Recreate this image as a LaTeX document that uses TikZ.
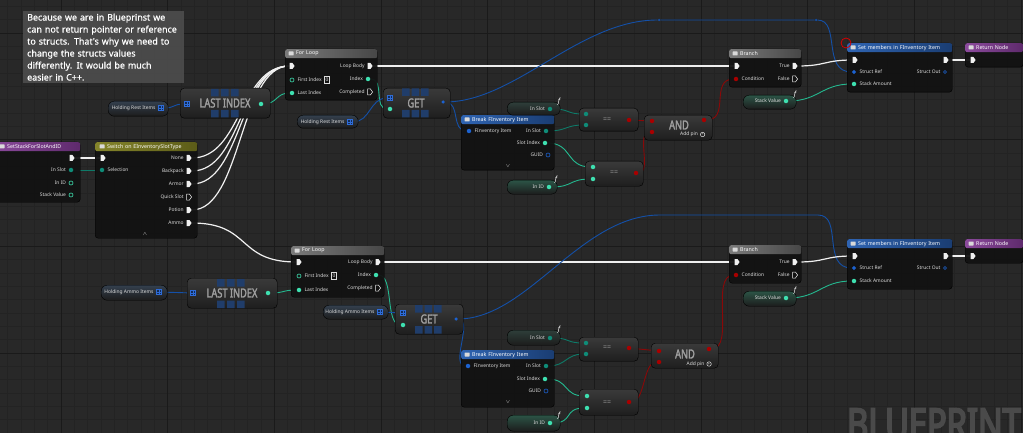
\documentclass[tikz,border=0pt]{standalone}
\usepackage{fontspec}
\setmainfont{Noto Sans}
\newfontfamily\bpcond[FakeStretch=0.74, FakeBold=2]{Noto Sans}
\newfontfamily\bpwm[FakeStretch=0.74, FakeBold=4]{Noto Sans}
\newfontfamily\bpnote[FakeBold=0.7]{Noto Sans}
\usepackage{xcolor}
\usepackage{tikz}
\usetikzlibrary{positioning,shapes,shapes.geometric,shapes.symbols,arrows.meta}
\pgfdeclarelayer{bg}
\pgfdeclarelayer{wires}
\pgfsetlayers{bg,wires,main}
\definecolor{bgcol}{HTML}{282828}
\definecolor{gridminor}{HTML}{232323}
\definecolor{gridmajor}{HTML}{1A1A1A}
\definecolor{nodebody}{HTML}{121212}
\definecolor{execwhite}{HTML}{F0F0F0}
\definecolor{intteal}{HTML}{3EE0B0}
\definecolor{intwirec}{HTML}{24B88F}
\definecolor{byteteal}{HTML}{0F8C78}
\definecolor{bytewirec}{HTML}{0E7A68}
\definecolor{structblue}{HTML}{1C62D0}
\definecolor{structwirec}{HTML}{1450A8}
\definecolor{boolred}{HTML}{A80000}
\definecolor{boolwirec}{HTML}{8A0808}
\definecolor{arrblue}{HTML}{2E6CD8}
\definecolor{pinlabel}{HTML}{DCDCDC}
\definecolor{commentgray}{HTML}{4C4C4C}
\definecolor{tileblue}{HTML}{203D6A}
\definecolor{purebig}{HTML}{A0A0A0}
\definecolor{watermark}{HTML}{4A4A4A}
\definecolor{funcL}{HTML}{8B4A9C}
\definecolor{funcR}{HTML}{5E2A6C}
\definecolor{switchL}{HTML}{84842A}
\definecolor{switchR}{HTML}{5C5C18}
\definecolor{loopL}{HTML}{7A7A7A}
\definecolor{loopR}{HTML}{474747}
\definecolor{structL}{HTML}{2F64B2}
\definecolor{structR}{HTML}{1A3D72}
\definecolor{pureTop}{HTML}{3A3A3A}
\definecolor{pureBot}{HTML}{1E1E1E}
\definecolor{arrTop}{HTML}{34404E}
\definecolor{byteTop}{HTML}{2E3E3A}
\definecolor{intTop}{HTML}{2C5446}
\definecolor{varBot}{HTML}{1C1C1C}
\newcommand{\bppin}{\fontsize{4.9}{5.5}\selectfont}
\newcommand{\bptitle}{\fontsize{5.3}{6}\selectfont}
\newcommand{\bpbig}{\bpcond\fontsize{12.5}{13}\selectfont}
\tikzset{
    bpbody/.style={rectangle, rounded corners=3pt, draw=black, fill=nodebody, fill opacity=0.95, anchor=north west, inner sep=0pt},
    bphead/.style={rectangle, rounded corners=2pt, anchor=north west, inner xsep=3pt, inner ysep=0pt, minimum height=9pt, font=\bptitle, text=white, align=left},
    hicon/.style={rectangle, fill=white!85!black, rounded corners=0.5pt, minimum width=5pt, minimum height=4pt, inner sep=0pt},
    bppure/.style={rectangle, rounded corners=4pt, draw=black, top color=pureTop, bottom color=pureBot, anchor=north west, inner sep=0pt},
    bpvar/.style={rectangle, rounded corners=6pt, draw=black, bottom color=varBot, anchor=north west, inner sep=0pt},
    bigtxt/.style={font=\bpbig, text=purebig, inner sep=0pt},
    eqtxt/.style={font=\bfseries\fontsize{7}{7}\selectfont, text=purebig, inner sep=0pt},
    pinlbl/.style={font=\bppin, text=pinlabel, inner sep=0pt},
    execpin/.style={signal, signal to=east, signal pointer angle=110, fill=execwhite, minimum width=5pt, minimum height=6pt, inner sep=0pt},
    execopen/.style={signal, signal to=east, signal pointer angle=110, draw=execwhite, line width=0.5pt, minimum width=5pt, minimum height=6pt, inner sep=0pt},
    intpin/.style={circle, fill=intteal, minimum size=4.5pt, inner sep=0pt},
    intopen/.style={circle, draw=intteal, line width=0.6pt, minimum size=4pt, inner sep=0pt},
    bytepin/.style={circle, fill=byteteal, minimum size=4.5pt, inner sep=0pt},
    structpin/.style={circle, fill=structblue, minimum size=4.5pt, inner sep=0pt},
    structref/.style={diamond, fill=structblue, minimum size=4.5pt, inner sep=0pt},
    structopen/.style={circle, draw=structblue, line width=0.6pt, minimum size=4pt, inner sep=0pt},
    boolpin/.style={circle, fill=boolred, minimum size=4.5pt, inner sep=0pt},
    arraypin/.style={rectangle, draw=arrblue, fill=arrblue!40!black, line width=0.5pt, minimum size=5pt, inner sep=0pt,
        path picture={\draw[arrblue, line width=0.4pt] (path picture bounding box.north) -- (path picture bounding box.south) (path picture bounding box.west) -- (path picture bounding box.east);}},
    valbox/.style={rectangle, draw=pinlabel, line width=0.4pt, font=\bppin, text=pinlabel, inner sep=0.8pt, minimum width=5pt, minimum height=7pt},
    addpin/.style={circle, draw=pinlabel, line width=0.5pt, minimum size=4.5pt, inner sep=0pt, font=\fontsize{4}{4}\selectfont, text=pinlabel},
    ficon/.style={font=\itshape\bfseries\fontsize{7}{7}\selectfont, text=white, inner sep=0pt},
    knot/.style={circle, fill=structwirec, minimum size=2.5pt, inner sep=0pt},
    comment/.style={rectangle, fill=commentgray, fill opacity=0.92, text opacity=1, text=white, anchor=north west, align=left, inner xsep=4pt, inner ysep=2pt, font=\bpnote\fontsize{8.9}{12}\selectfont},
    execwire/.style={draw=execwhite, line width=1.2pt},
    intwire/.style={draw=intwirec, line width=0.9pt},
    bytewire/.style={draw=bytewirec, line width=0.9pt},
    structwire/.style={draw=structwirec, line width=0.9pt},
    arrwire/.style={draw=structwirec, line width=0.9pt},
    boolwire/.style={draw=boolwirec, line width=0.9pt}
}

\begin{document}
\begin{tikzpicture}[x=1pt, y=-1pt]

\useasboundingbox (0,0) rectangle (1023,433);
\clip (0,0) rectangle (1023,433);

% ── Canvas ──
\begin{pgfonlayer}{bg}
\fill[bgcol] (0,0) rectangle (1023,433);
\draw[gridminor, line width=0.4pt, step=13.333pt, shift={(61pt,-33pt)}] (-61pt,33pt) grid (962pt,-400pt);
\draw[gridmajor, line width=0.6pt, step=106.667pt, shift={(61pt,-33pt)}] (-61pt,33pt) grid (962pt,-400pt);
\end{pgfonlayer}

% ── Comment ──
\node[comment, minimum width=161pt, minimum height=72pt, text width=153pt] (note) at (23,11) {Because we are in Blueprinst we\\can not return pointer or reference\\to structs. That's why we need to\\change the structs values\\differently. It would be much\\easier in C++.};

% ── Entry ──
\node[bpbody, minimum width=90pt, minimum height=60pt] (ss) at (-10,142) {};
\node[bphead, left color=funcL, right color=funcR, minimum width=90pt, text width=84pt] (ss-h) at (-10,142) {\hspace*{14pt}SetStackForSlotAndID};
\node[hicon] at (2,146.5) {};
\node[execpin] (ss-out) at (71,158) {};
\node[bytepin] (ss-slot) at (71,170) {};
\node[pinlbl, left=2.5pt of ss-slot] {In Slot};
\node[intopen] (ss-id) at (71,183) {};
\node[pinlbl, left=2.5pt of ss-id] {In ID};
\node[intopen] (ss-val) at (71,195) {};
\node[pinlbl, left=2.5pt of ss-val] {Stack Value};

% ── Switch ──
\node[bpbody, minimum width=102pt, minimum height=96pt] (sw) at (95,142) {};
\node[bphead, left color=switchL, right color=switchR, minimum width=102pt, text width=96pt] (sw-h) at (95,142) {\hspace*{9pt}Switch on EInventorySlotType};
\node[hicon] at (102,146.5) {};
\node[execpin] (sw-in) at (102,158) {};
\node[bytepin] (sw-sel) at (102,170) {};
\node[pinlbl, right=3pt of sw-sel] {Selection};
\node[execpin] (sw-none) at (188,158) {};
\node[pinlbl, left=2.5pt of sw-none] {None};
\node[execpin] (sw-pack) at (188,171) {};
\node[pinlbl, left=2.5pt of sw-pack] {Backpack};
\node[execpin] (sw-armor) at (188,184) {};
\node[pinlbl, left=2.5pt of sw-armor] {Armor};
\node[execopen] (sw-quick) at (188,197) {};
\node[pinlbl, left=2.5pt of sw-quick] {Quick Slot};
\node[execpin] (sw-potion) at (188,210) {};
\node[pinlbl, left=2.5pt of sw-potion] {Potion};
\node[execpin] (sw-ammo) at (188,223) {};
\node[pinlbl, left=2.5pt of sw-ammo] {Ammo};
\node[pinlbl] (sw-more) at (145,234) {$\wedge$};

% ── Rest items: last index ──
\node[bpvar, top color=arrTop, minimum width=60pt, minimum height=15pt] (hri1) at (108,101) {};
\node[arraypin] (hri1-out) at (161,108) {};
\node[pinlbl, left=2.5pt of hri1-out] {Holding Rest Items};
\node[bppure, minimum width=90pt, minimum height=30pt] (li1) at (180,88) {};
\fill[tileblue] (211,89) rectangle +(7.5,7.5) (221,89) rectangle +(7.5,7.5) (231,89) rectangle +(7.5,7.5)
    (211,110) rectangle +(7.5,7.5) (221,110) rectangle +(7.5,7.5) (231,110) rectangle +(7.5,7.5);
\node[bigtxt] (li1-t) at (225,103) {LAST INDEX};
\node[arraypin] (li1-arr) at (187,104) {};
\node[intpin] (li1-out) at (261,104) {};

% ── Rest items: for loop ──
\node[bpbody, minimum width=92pt, minimum height=51pt] (fl1) at (285,49) {};
\node[bphead, left color=loopL, right color=loopR, minimum width=92pt, text width=86pt] (fl1-h) at (285,49) {\hspace*{8pt}For Loop};
\node[hicon] at (291,53.5) {};
\node[execpin] (fl1-in) at (291,66) {};
\node[intopen] (fl1-first) at (292,80) {};
\node[pinlbl, right=3pt of fl1-first] (fl1-firstl) {First Index};
\node[valbox, right=2.5pt of fl1-firstl] {0};
\node[intpin] (fl1-last) at (292,93) {};
\node[pinlbl, right=3pt of fl1-last] {Last Index};
\node[execpin] (fl1-body) at (369,66) {};
\node[pinlbl, left=2.5pt of fl1-body] {Loop Body};
\node[intpin] (fl1-idx) at (368,79) {};
\node[pinlbl, left=2.5pt of fl1-idx] {Index};
\node[execopen] (fl1-done) at (369,92) {};
\node[pinlbl, left=2.5pt of fl1-done] {Completed};

% ── Rest items: get ──
\node[bpvar, top color=arrTop, minimum width=61pt, minimum height=13pt] (hri2) at (297,115) {};
\node[arraypin] (hri2-out) at (350,122) {};
\node[pinlbl, left=2.5pt of hri2-out] {Holding Rest Items};
\node[bppure, minimum width=67pt, minimum height=30pt] (get1) at (383,88) {};
\fill[tileblue] (402,88.5) rectangle +(7.5,7.5) (411.5,88.5) rectangle +(7.5,7.5) (421,88.5) rectangle +(7.5,7.5)
    (402,110) rectangle +(7.5,7.5) (411.5,110) rectangle +(7.5,7.5) (421,110) rectangle +(7.5,7.5);
\node[bigtxt] (get1-t) at (416,103) {GET};
\node[arraypin] (get1-arr) at (390,98) {};
\node[intpin] (get1-int) at (390,109) {};
\node[structpin, minimum size=3.5pt] (get1-out) at (443,102) {};

% ── Rest items: break ──
\node[bpbody, minimum width=93pt, minimum height=55pt] (brk1) at (461,115) {};
\node[bphead, left color=structL, right color=structR, minimum width=93pt, text width=87pt] (brk1-h) at (461,115) {\hspace*{8pt}Break FInventory Item};
\node[hicon] at (467,119.5) {};
\node[structpin] (brk1-in) at (469,131) {};
\node[pinlbl, right=3pt of brk1-in] {FInventory Item};
\node[bytepin] (brk1-slot) at (546,131) {};
\node[pinlbl, left=2.5pt of brk1-slot] {In Slot};
\node[intpin] (brk1-idx) at (545,143) {};
\node[pinlbl, left=2.5pt of brk1-idx] {Slot Index};
\node[structopen] (brk1-guid) at (548,155) {};
\node[pinlbl, left=2.5pt of brk1-guid] {GUID};
\node[pinlbl] (brk1-more) at (508,166) {$\vee$};

% ── Rest items: compare ──
\node[bpvar, top color=byteTop, minimum width=53pt, minimum height=13pt] (slot1) at (507,102) {};
\node[bytepin] (slot1-out) at (550,109) {};
\node[pinlbl, left=2.5pt of slot1-out] {In Slot};
\node[ficon] at (559,102) {f};
\node[bpvar, top color=intTop, minimum width=50pt, minimum height=14pt] (id1) at (507,180) {};
\node[intpin] (id1-out) at (549,187) {};
\node[pinlbl, left=2.5pt of id1-out] {In ID};
\node[ficon] at (556,180) {f};
\node[bppure, minimum width=59pt, minimum height=23pt] (eqa1) at (579,108) {};
\node[eqtxt] at (607,120) {==};
\node[bytepin] (eqa1-a) at (586,114) {};
\node[bytepin] (eqa1-b) at (586,125) {};
\node[boolpin] (eqa1-out) at (629,120) {};
\node[bppure, minimum width=58pt, minimum height=25pt] (eqb1) at (585,161) {};
\node[eqtxt] at (614,173) {==};
\node[intpin] (eqb1-a) at (593,167) {};
\node[intpin] (eqb1-b) at (593,179) {};
\node[boolpin] (eqb1-out) at (636,173) {};
\node[bppure, minimum width=68pt, minimum height=25pt] (and1) at (644,115) {};
\node[bigtxt] at (679,125) {AND};
\node[boolpin] (and1-a) at (652,121) {};
\node[boolpin] (and1-b) at (652,132) {};
\node[boolpin] (and1-out) at (704,120) {};
\node[pinlbl] (and1-addl) at (689,134.5) {Add pin};
\node[addpin, right=2pt of and1-addl] {+};

% ── Rest items: branch and set ──
\node[bpbody, minimum width=72pt, minimum height=38pt] (br1) at (729,49) {};
\node[bphead, left color=loopL, right color=loopR, minimum width=72pt, text width=66pt] (br1-h) at (729,49) {\hspace*{8pt}Branch};
\node[hicon] at (735,53.5) {};
\node[execpin] (br1-in) at (736,66) {};
\node[boolpin] (br1-cond) at (736,79) {};
\node[pinlbl, right=3pt of br1-cond] {Condition};
\node[execpin] (br1-true) at (794,66) {};
\node[pinlbl, left=2.5pt of br1-true] {True};
\node[execopen] (br1-false) at (794,79) {};
\node[pinlbl, left=2.5pt of br1-false] {False};
\node[bpvar, top color=intTop, minimum width=53pt, minimum height=14pt] (sv1) at (743,95) {};
\node[intpin] (sv1-out) at (786,101) {};
\node[pinlbl, left=2.5pt of sv1-out] {Stack Value};
\node[ficon] at (795,95) {f};
\node[bpbody, minimum width=105pt, minimum height=49pt] (set1) at (847,43) {};
\node[bphead, left color=structL, right color=structR, minimum width=105pt, text width=99pt] (set1-h) at (847,43) {\hspace*{8pt}Set members in FInventory Item};
\node[hicon] at (853,47.5) {};
\node[execpin] (set1-in) at (854,60) {};
\node[structref] (set1-ref) at (854,72) {};
\node[pinlbl, right=3pt of set1-ref] {Struct Ref};
\node[intpin] (set1-amt) at (854,84) {};
\node[pinlbl, right=3pt of set1-amt] {Stack Amount};
\node[execpin] (set1-out) at (945,60) {};
\node[structopen, minimum size=3pt] (set1-sout) at (945,72) {};
\node[pinlbl, left=2.5pt of set1-sout] {Struct Out};
\node[bpbody, minimum width=58pt, minimum height=24pt] (ret1) at (965,43) {};
\node[bphead, left color=funcL, right color=funcR, minimum width=58pt, text width=52pt] (ret1-h) at (965,43) {\hspace*{8pt}Return Node};
\node[hicon] at (971,47.5) {};
\node[execpin] (ret1-in) at (972,60) {};
\node[circle, draw=red!85!black, line width=0.8pt, minimum size=10pt, inner sep=0pt] (mark) at (846,43) {};

% ── Ammo items: last index ──
\node[bpvar, top color=arrTop, minimum width=66pt, minimum height=15pt] (hai1) at (101,285) {};
\node[arraypin] (hai1-out) at (159,292) {};
\node[pinlbl, left=2.5pt of hai1-out] {Holding Ammo Items};
\node[bppure, minimum width=90pt, minimum height=30pt] (li2) at (187,278) {};
\fill[tileblue] (217,279) rectangle +(7.5,7.5) (227,279) rectangle +(7.5,7.5) (237,279) rectangle +(7.5,7.5)
    (217,300.5) rectangle +(7.5,7.5) (227,300.5) rectangle +(7.5,7.5) (237,300.5) rectangle +(7.5,7.5);
\node[bigtxt] (li2-t) at (232,293) {LAST INDEX};
\node[arraypin] (li2-arr) at (193,293) {};
\node[intpin] (li2-out) at (268,293) {};

% ── Ammo items: for loop ──
\node[bpbody, minimum width=93pt, minimum height=51pt] (fl2) at (291,246) {};
\node[bphead, left color=loopL, right color=loopR, minimum width=93pt, text width=87pt] (fl2-h) at (291,246) {\hspace*{8pt}For Loop};
\node[hicon] at (297,250.5) {};
\node[execpin] (fl2-in) at (298,262) {};
\node[intopen] (fl2-first) at (299,276) {};
\node[pinlbl, right=3pt of fl2-first] (fl2-firstl) {First Index};
\node[valbox, right=2.5pt of fl2-firstl] {0};
\node[intpin] (fl2-last) at (299,290) {};
\node[pinlbl, right=3pt of fl2-last] {Last Index};
\node[execpin] (fl2-body) at (377,262) {};
\node[pinlbl, left=2.5pt of fl2-body] {Loop Body};
\node[intpin] (fl2-idx) at (376,275) {};
\node[pinlbl, left=2.5pt of fl2-idx] {Index};
\node[execopen] (fl2-done) at (377,288) {};
\node[pinlbl, left=2.5pt of fl2-done] {Completed};

% ── Ammo items: get ──
\node[bpvar, top color=arrTop, minimum width=65pt, minimum height=14pt] (hai2) at (323,305) {};
\node[arraypin] (hai2-out) at (380,312) {};
\node[pinlbl, left=2.5pt of hai2-out] {Holding Ammo Items};
\node[bppure, minimum width=68pt, minimum height=30pt] (get2) at (395,304) {};
\fill[tileblue] (415,305) rectangle +(7.5,7.5) (424.5,305) rectangle +(7.5,7.5) (434,305) rectangle +(7.5,7.5)
    (415,326) rectangle +(7.5,7.5) (424.5,326) rectangle +(7.5,7.5) (434,326) rectangle +(7.5,7.5);
\node[bigtxt] (get2-t) at (429,319) {GET};
\node[arraypin] (get2-arr) at (403,313) {};
\node[intpin] (get2-int) at (403,325) {};
\node[structpin, minimum size=3.5pt] (get2-out) at (456,319) {};

% ── Ammo items: break ──
\node[bpbody, minimum width=93pt, minimum height=57pt] (brk2) at (461,350) {};
\node[bphead, left color=structL, right color=structR, minimum width=93pt, text width=87pt] (brk2-h) at (461,350) {\hspace*{8pt}Break FInventory Item};
\node[hicon] at (467,354.5) {};
\node[structpin] (brk2-in) at (468,366) {};
\node[pinlbl, right=3pt of brk2-in] {FInventory Item};
\node[bytepin] (brk2-slot) at (546,366) {};
\node[pinlbl, left=2.5pt of brk2-slot] {In Slot};
\node[intpin] (brk2-idx) at (545,379) {};
\node[pinlbl, left=2.5pt of brk2-idx] {Slot Index};
\node[structopen] (brk2-guid) at (546,391) {};
\node[pinlbl, left=2.5pt of brk2-guid] {GUID};
\node[pinlbl] (brk2-more) at (508,402) {$\vee$};

% ── Ammo items: compare ──
\node[bpvar, top color=byteTop, minimum width=53pt, minimum height=15pt] (slot2) at (507,330) {};
\node[bytepin] (slot2-out) at (550,338) {};
\node[pinlbl, left=2.5pt of slot2-out] {In Slot};
\node[ficon] at (559,330) {f};
\node[bpvar, top color=intTop, minimum width=53pt, minimum height=16pt] (id2) at (507,415) {};
\node[intpin] (id2-out) at (550,423) {};
\node[pinlbl, left=2.5pt of id2-out] {In ID};
\node[ficon] at (559,416) {f};
\node[bppure, minimum width=59pt, minimum height=24pt] (eqa2) at (579,337) {};
\node[eqtxt] at (607,348) {==};
\node[bytepin] (eqa2-a) at (586,343) {};
\node[bytepin] (eqa2-b) at (586,354) {};
\node[boolpin] (eqa2-out) at (629,348) {};
\node[bppure, minimum width=59pt, minimum height=26pt] (eqb2) at (579,389) {};
\node[eqtxt] at (607,403) {==};
\node[intpin] (eqb2-a) at (587,396) {};
\node[intpin] (eqb2-b) at (587,408) {};
\node[boolpin] (eqb2-out) at (629,402) {};
\node[bppure, minimum width=67pt, minimum height=25pt] (and2) at (651,343) {};
\node[bigtxt] at (685,354) {AND};
\node[boolpin] (and2-a) at (659,351) {};
\node[boolpin] (and2-b) at (659,362) {};
\node[boolpin] (and2-out) at (709,349) {};
\node[pinlbl] (and2-addl) at (695.5,364) {Add pin};
\node[addpin, right=2pt of and2-addl] {+};

% ── Ammo items: branch and set ──
\node[bpbody, minimum width=72pt, minimum height=38pt] (br2) at (729,245) {};
\node[bphead, left color=loopL, right color=loopR, minimum width=72pt, text width=66pt] (br2-h) at (729,245) {\hspace*{8pt}Branch};
\node[hicon] at (735,249.5) {};
\node[execpin] (br2-in) at (736,262) {};
\node[boolpin] (br2-cond) at (736,275) {};
\node[pinlbl, right=3pt of br2-cond] {Condition};
\node[execpin] (br2-true) at (794,262) {};
\node[pinlbl, left=2.5pt of br2-true] {True};
\node[execopen] (br2-false) at (794,275) {};
\node[pinlbl, left=2.5pt of br2-false] {False};
\node[bpvar, top color=intTop, minimum width=53pt, minimum height=15pt] (sv2) at (743,291) {};
\node[intpin] (sv2-out) at (786,298) {};
\node[pinlbl, left=2.5pt of sv2-out] {Stack Value};
\node[ficon] at (795,291) {f};
\node[bpbody, minimum width=105pt, minimum height=50pt] (set2) at (847,239) {};
\node[bphead, left color=structL, right color=structR, minimum width=105pt, text width=99pt] (set2-h) at (847,239) {\hspace*{8pt}Set members in FInventory Item};
\node[hicon] at (853,243.5) {};
\node[execpin] (set2-in) at (854,256) {};
\node[structref] (set2-ref) at (854,268) {};
\node[pinlbl, right=3pt of set2-ref] {Struct Ref};
\node[intpin] (set2-amt) at (854,281) {};
\node[pinlbl, right=3pt of set2-amt] {Stack Amount};
\node[execpin] (set2-out) at (945,256) {};
\node[structopen, minimum size=3pt] (set2-sout) at (945,268) {};
\node[pinlbl, left=2.5pt of set2-sout] {Struct Out};
\node[bpbody, minimum width=58pt, minimum height=24pt] (ret2) at (965,239) {};
\node[bphead, left color=funcL, right color=funcR, minimum width=58pt, text width=52pt] (ret2-h) at (965,239) {\hspace*{8pt}Return Node};
\node[hicon] at (971,243.5) {};
\node[execpin] (ret2-in) at (972,256) {};

% ── Watermark ──
\node[font=\bpwm\fontsize{44}{44}\selectfont, text=watermark, anchor=base west, inner sep=0pt] (wm) at (847,440) {BLUEPRINT};

% ── Wires ──
\begin{pgfonlayer}{wires}
\node[knot] (k1a) at (659,20) {};
\node[knot] (k1b) at (816,20) {};
\coordinate (k2a) at (660,215);
\coordinate (k2b) at (818,215);
\draw[execwire] (ss-out) -- (sw-in);
\draw[bytewire] (ss-slot) -- (sw-sel);
\draw[execwire] (sw-none.east) .. controls +(50,0) and +(-50,0) .. (fl1-in.west);
\draw[execwire] (sw-pack.east) .. controls +(50,0) and +(-50,0) .. (fl1-in.west);
\draw[execwire] (sw-armor.east) .. controls +(50,0) and +(-50,0) .. (fl1-in.west);
\draw[execwire] (sw-potion.east) .. controls +(50,0) and +(-50,0) .. (fl1-in.west);
\draw[execwire] (sw-ammo.east) .. controls +(60,0) and +(-60,0) .. (fl2-in.west);
% rest items
\draw[arrwire] (hri1-out.east) .. controls +(12,0) and +(-12,0) .. (li1-arr.west);
\draw[intwire] (li1-out.east) .. controls +(14,0) and +(-14,0) .. (fl1-last.west);
\draw[execwire] (fl1-body) -- (br1-in);
\draw[intwire] (fl1-idx.east) .. controls +(15,0) and +(-15,0) .. (get1-int.west);
\draw[arrwire] (hri2-out.east) .. controls +(18,0) and +(-18,0) .. (get1-arr.west);
\draw[structwire] (get1-out.east) .. controls +(16,0) and +(-16,0) .. (brk1-in.west);
\draw[structwire] (get1-out.east) .. controls +(70,0) and +(-80,0) .. (k1a) -- (k1b) .. controls +(25,0) and +(-30,0) .. (set1-ref.west);
\draw[bytewire] (slot1-out.east) .. controls +(18,0) and +(-18,0) .. (eqa1-a.west);
\draw[bytewire] (brk1-slot.east) .. controls +(18,0) and +(-18,0) .. (eqa1-b.west);
\draw[intwire] (brk1-idx.east) .. controls +(25,0) and +(-25,0) .. (eqb1-a.west);
\draw[intwire] (id1-out.east) .. controls +(22,0) and +(-22,0) .. (eqb1-b.west);
\draw[boolwire] (eqa1-out) -- (and1-a);
\draw[boolwire] (eqb1-out.east) .. controls +(14,0) and +(-14,0) .. (and1-b.west);
\draw[boolwire] (and1-out.east) .. controls +(24,0) and +(-24,0) .. (br1-cond.west);
\draw[execwire] (br1-true.east) .. controls +(28,0) and +(-28,0) .. (set1-in.west);
\draw[intwire] (sv1-out.east) .. controls +(30,0) and +(-30,0) .. (set1-amt.west);
\draw[execwire] (set1-out) -- (ret1-in);
% ammo items
\draw[arrwire] (hai1-out) -- (li2-arr);
\draw[intwire] (li2-out.east) .. controls +(14,0) and +(-14,0) .. (fl2-last.west);
\draw[execwire] (fl2-body) -- (br2-in);
\draw[intwire] (fl2-idx.east) .. controls +(16,0) and +(-16,0) .. (get2-int.west);
\draw[arrwire] (hai2-out) -- (get2-arr);
\draw[structwire] (get2-out.east) .. controls +(16,0) and +(-16,0) .. (brk2-in.west);
\draw[structwire] (get2-out.east) .. controls +(70,0) and +(-80,0) .. (k2a) -- (k2b) .. controls +(25,0) and +(-30,0) .. (set2-ref.west);
\draw[bytewire] (slot2-out.east) .. controls +(18,0) and +(-18,0) .. (eqa2-a.west);
\draw[bytewire] (brk2-slot.east) .. controls +(18,0) and +(-18,0) .. (eqa2-b.west);
\draw[intwire] (brk2-idx.east) .. controls +(22,0) and +(-22,0) .. (eqb2-a.west);
\draw[intwire] (id2-out.east) .. controls +(22,0) and +(-22,0) .. (eqb2-b.west);
\draw[boolwire] (eqa2-out) -- (and2-a);
\draw[boolwire] (eqb2-out.east) .. controls +(14,0) and +(-14,0) .. (and2-b.west);
\draw[boolwire] (and2-out.east) .. controls +(24,0) and +(-24,0) .. (br2-cond.west);
\draw[execwire] (br2-true.east) .. controls +(28,0) and +(-28,0) .. (set2-in.west);
\draw[intwire] (sv2-out.east) .. controls +(30,0) and +(-30,0) .. (set2-amt.west);
\draw[execwire] (set2-out) -- (ret2-in);
\end{pgfonlayer}

\end{tikzpicture}
\end{document}
